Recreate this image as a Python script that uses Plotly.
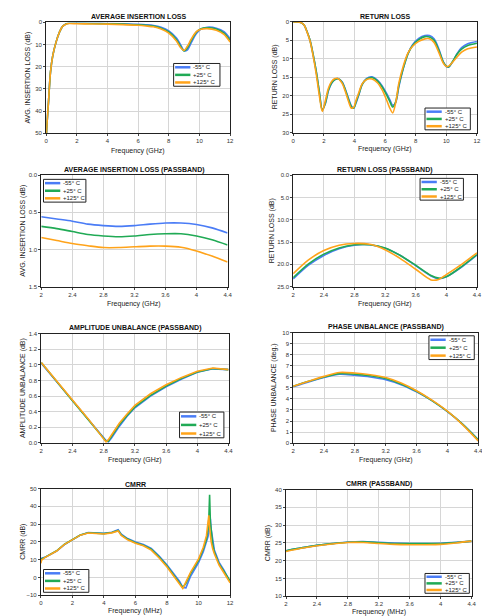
import plotly.graph_objects as go

W, H = 490, 616
FONT = 'Liberation Sans, Arial, sans-serif'
COLORS = ['#4a7cf6', '#20aa55', '#ffa31a']
LABELS = ['-55° C', '+25° C', '+125° C']

# ---- average insertion loss (wideband) ----
il_x = [0.02, 0.05, 0.15, 0.28, 0.43, 0.64, 0.86, 1.07, 1.29, 1.5, 2, 3, 4, 5, 6, 6.5, 7, 7.5,
        8, 8.5, 8.75, 9.0, 9.2, 9.46, 9.8, 10.1, 10.5, 11.1, 11.6, 12]
il_m55 = [50, 46, 36, 22.5, 15, 9, 4.5, 1.8, 0.7, 0.4, 0.3, 0.4, 0.5, 0.6, 0.9, 1.1, 1.4, 2.2,
          3.8, 7.0, 9.8, 12.8, 12.5, 9.2, 5.0, 3.0, 2.2, 2.6, 4.2, 7.4]
il_p25 = [50, 46, 36, 22.5, 15, 9, 4.5, 1.8, 0.7, 0.4, 0.4, 0.5, 0.6, 0.8, 1.1, 1.3, 1.7, 2.6,
          4.3, 7.8, 10.6, 12.9, 11.6, 8.2, 4.4, 2.9, 2.4, 3.0, 4.8, 8.1]
il_p125 = [50, 46, 36, 22.5, 15, 9, 4.5, 1.8, 0.8, 0.5, 0.6, 0.7, 0.8, 1.0, 1.3, 1.6, 2.0, 3.0,
           4.8, 8.4, 11.2, 12.6, 10.9, 7.6, 4.2, 3.1, 2.8, 3.5, 5.4, 8.9]

# ---- return loss (wideband) ----
rl_x = [0, 0.3, 0.5, 0.7, 0.9, 1.1, 1.3, 1.5, 1.7, 1.9, 2.1, 2.3, 2.5, 2.7, 2.95, 3.2, 3.4, 3.6,
        3.8, 3.95, 4.1, 4.3, 4.5, 4.8, 5.15, 5.5, 5.8, 6.1, 6.3, 6.5, 6.7, 6.9, 7.2, 7.5, 7.8,
        8.2, 8.6, 8.9, 9.2, 9.5, 9.8, 10.0, 10.15, 10.4, 10.7, 11.0, 11.4, 12]
rl_m55 = [0, 0, 0.2, 0.8, 2.6, 5.0, 8.8, 13.3, 18.8, 23.8, 22.2, 18.7, 16.7, 15.7, 15.4, 16.3,
          18.2, 20.6, 22.8, 23.4, 22.0, 19.6, 17.0, 15.3, 14.9, 15.8, 17.3, 19.4, 21.0, 22.6,
          21.8, 17.6, 12.5, 8.6, 6.2, 4.5, 3.7, 3.7, 4.6, 7.2, 10.8, 12.1, 12.3, 10.9, 8.6, 7.0,
          5.9, 5.3]
rl_p25 = [0, 0, 0.2, 0.8, 2.6, 5.0, 8.8, 13.3, 18.8, 24.0, 22.0, 18.5, 16.6, 15.7, 15.4, 16.4,
          18.4, 20.9, 23.0, 23.4, 21.8, 19.4, 17.0, 15.5, 15.1, 16.0, 17.6, 19.8, 21.5, 23.1,
          21.6, 17.2, 12.4, 8.6, 6.4, 4.8, 4.0, 4.1, 5.0, 7.6, 10.9, 12.0, 12.2, 10.8, 8.8, 7.4,
          6.4, 5.8]
rl_p125 = [0, 0, 0.2, 0.8, 2.7, 5.2, 9.2, 14.0, 19.8, 24.3, 21.4, 18.0, 16.2, 15.4, 15.4, 16.7,
           18.8, 21.4, 23.4, 23.2, 21.3, 19.0, 16.8, 15.6, 15.5, 16.5, 18.4, 21.2, 23.3, 24.7,
           21.8, 16.6, 11.8, 8.4, 6.6, 5.3, 4.6, 4.6, 5.6, 8.2, 11.2, 12.1, 12.0, 11.0, 9.5, 8.2,
           7.3, 6.8]

# ---- passband frequency grid ----
pb_x = [2.0, 2.2, 2.4, 2.6, 2.8, 3.0, 3.2, 3.4, 3.6, 3.8, 4.0, 4.2, 4.4]

ilp_m55 = [0.56, 0.59, 0.62, 0.66, 0.68, 0.69, 0.68, 0.66, 0.645, 0.645, 0.665, 0.71, 0.78]
ilp_p25 = [0.69, 0.72, 0.76, 0.80, 0.82, 0.83, 0.82, 0.80, 0.79, 0.79, 0.82, 0.87, 0.94]
ilp_p125 = [0.84, 0.88, 0.92, 0.95, 0.975, 0.975, 0.965, 0.955, 0.955, 0.97, 1.02, 1.09, 1.17]

rlp_x = [2.0, 2.2, 2.4, 2.6, 2.8, 3.0, 3.2, 3.4, 3.6, 3.8, 3.9, 4.0, 4.2, 4.4]
rlp_m55 = [23.3, 20.2, 18.0, 16.5, 15.7, 15.6, 16.4, 18.0, 20.3, 22.6, 23.2, 22.8, 20.6, 17.9]
rlp_p25 = [23.0, 19.9, 17.7, 16.3, 15.6, 15.6, 16.3, 18.0, 20.2, 22.5, 23.1, 22.8, 20.5, 17.8]
rlp_p125 = [22.1, 19.0, 16.9, 15.7, 15.3, 15.5, 16.7, 18.7, 21.1, 23.5, 23.4, 22.3, 20.0, 17.4]

au_x = [2.0, 2.2, 2.4, 2.6, 2.8, 2.83, 2.86, 2.9, 3.0, 3.1, 3.2, 3.4, 3.6, 3.8, 4.0, 4.2, 4.4]
au_m55 = [1.02, 0.78, 0.54, 0.31, 0.07, 0.03, 0.01, 0.06, 0.21, 0.34, 0.45, 0.60, 0.72, 0.82,
          0.905, 0.95, 0.94]
au_p25 = [1.03, 0.78, 0.54, 0.30, 0.06, 0.02, 0.02, 0.08, 0.23, 0.35, 0.46, 0.61, 0.73, 0.83,
          0.91, 0.955, 0.94]
au_p125 = [1.03, 0.79, 0.55, 0.31, 0.05, 0.01, 0.04, 0.10, 0.25, 0.37, 0.48, 0.63, 0.745, 0.84,
           0.92, 0.96, 0.94]

pu_m55 = [5.1, 5.55, 5.95, 6.25, 6.15, 6.0, 5.75, 5.3, 4.65, 3.85, 2.85, 1.7, 0.3]
pu_p25 = [5.15, 5.6, 6.0, 6.3, 6.25, 6.1, 5.85, 5.35, 4.7, 3.85, 2.87, 1.7, 0.3]
pu_p125 = [5.15, 5.6, 6.05, 6.4, 6.35, 6.2, 5.95, 5.45, 4.75, 3.9, 2.9, 1.65, 0.2]

# ---- CMRR (wideband) ----
cm_x = [0, 0.05, 0.25, 0.5, 1.0, 1.5, 2.0, 2.5, 3.0, 3.5, 4.0, 4.5, 4.9, 5.1, 5.5, 6.0, 6.5, 7.0,
        7.5, 8.0, 8.5, 8.8, 9.0, 9.2, 9.5, 10.0, 10.3, 10.5, 10.6, 10.65, 10.7, 10.75, 10.8,
        10.9, 11.0, 11.3, 11.6, 12.0]
cm_m55 = [10.5, 10.8, 11.3, 12.4, 14.8, 18.5, 21.4, 23.8, 25.3, 25.0, 24.8, 25.4, 26.8, 24.4,
          21.9, 19.9, 18.5, 16.3, 12.0, 7.0, 1.5, -2.2, -5.6, -5.8, 0.8, 8.4, 14.5, 19.5, 23.0,
          25.5, 30.0, 33.0, 27.0, 20.0, 15.5, 8.5, 4.3, -2.5]
cm_p25 = [9.5, 10.5, 11.3, 12.5, 15.0, 18.7, 21.5, 23.9, 25.2, 24.9, 24.7, 25.3, 26.5, 24.0,
          21.6, 19.6, 18.2, 15.9, 11.5, 6.5, 0.6, -2.6, -5.6, -3.3, 2.3, 9.6, 16.0, 21.5, 27.0,
          33.0, 46.5, 31.0, 25.0, 18.5, 14.3, 7.6, 3.6, -2.0]
cm_p125 = [8.0, 9.8, 11.2, 12.4, 14.9, 18.6, 21.4, 23.8, 25.0, 24.7, 24.5, 25.1, 26.2, 23.6,
           21.2, 19.2, 17.8, 15.4, 11.0, 5.9, 0.0, -3.8, -6.2, -2.5, 3.0, 10.4, 17.0, 23.5, 33.0,
           35.0, 28.0, 23.0, 20.0, 16.0, 13.3, 7.0, 3.0, -3.0]

cmp_m55 = [22.8, 23.6, 24.3, 24.8, 25.25, 25.4, 25.15, 24.95, 24.85, 24.85, 24.9, 25.15, 25.5]
cmp_p25 = [22.8, 23.6, 24.3, 24.8, 25.2, 25.3, 25.05, 24.85, 24.8, 24.8, 24.85, 25.1, 25.5]
cmp_p125 = [22.6, 23.5, 24.2, 24.7, 25.1, 25.1, 24.85, 24.6, 24.5, 24.5, 24.6, 25.0, 25.5]

# panel layout in pixels: plot box (x0, x1, y0, y1), legend box (lx0, ly0, lx1, ly1)
panels = [
    dict(title='AVERAGE INSERTION LOSS', ytitle='AVG. INSERTION LOSS (dB)', xtitle='Frequency (GHz)',
         x=il_x, ys=[il_m55, il_p25, il_p125], xr=[0, 12], xd=2, yr=[50, 0], yd=10, fmt='',
         box=(36.7, 223.3, 11.5, 123.5), leg=(166, 53, 213, 76), ttl=6, xt=141, yt=18, shape='spline'),
    dict(title='RETURN LOSS', ytitle='RETURN LOSS (dB)', xtitle='Frequency (GHz)',
         x=rl_x, ys=[rl_m55, rl_p25, rl_p125], xr=[0, 12], xd=2, yr=[30, 0], yd=5, fmt='',
         box=(287.3, 473.7, 11, 122.7), leg=(421, 98, 467, 120), ttl=6, xt=139, yt=269, shape='spline'),
    dict(title='AVERAGE INSERTION LOSS (PASSBAND)', ytitle='AVG. INSERTION LOSS (dB)', xtitle='Frequency (GHz)',
         x=pb_x, ys=[ilp_m55, ilp_p25, ilp_p125], xr=[2, 4.4], xd=0.4, yr=[1.5, 0], yd=0.5, fmt='.1f',
         box=(31.7, 220.7, 165.7, 278.3), leg=(34, 170, 77, 193), ttl=161, xt=296, yt=13, shape='spline'),
    dict(title='RETURN LOSS (PASSBAND)', ytitle='RETURN LOSS (dB)', xtitle='Frequency (GHz)',
         x=rlp_x, ys=[rlp_m55, rlp_p25, rlp_p125], xr=[2, 4.4], xd=0.4, yr=[25, 0], yd=5, fmt='.1f',
         box=(287.3, 473.7, 166, 278.3), leg=(416, 169, 460, 191), ttl=161, xt=296, yt=266, shape='spline'),
    dict(title='AMPLITUDE UNBALANCE (PASSBAND)', ytitle='AMPLITUDE UNBALANCE (dB)', xtitle='Frequency (GHz)',
         x=au_x, ys=[au_m55, au_p25, au_p125], xr=[2, 4.4], xd=0.4, yr=[0, 1.4], yd=0.2, fmt='.1f',
         box=(31.7, 221.7, 326, 436), leg=(172, 405, 217, 431), ttl=320, xt=453, yt=13, shape='linear'),
    dict(title='PHASE UNBALANCE (PASSBAND)', ytitle='PHASE UNBALANCE (deg.)', xtitle='Frequency (GHz)',
         x=pb_x, ys=[pu_m55, pu_p25, pu_p125], xr=[2, 4.4], xd=0.4, yr=[0, 10], yd=1, fmt='',
         box=(287.3, 475, 325, 436.3), leg=(425, 328, 471, 352), ttl=319, xt=453, yt=268, shape='spline'),
    dict(title='CMRR', ytitle='CMRR (dB)', xtitle='Frequency (MHz)',
         x=cm_x, ys=[cm_m55, cm_p25, cm_p125], xr=[0, 12], xd=2, yr=[-10, 50], yd=10, fmt='',
         box=(31.3, 223.3, 482.3, 590), leg=(34, 564, 80, 587), ttl=478, xt=606, yt=13, shape='linear'),
    dict(title='CMRR (PASSBAND)', ytitle='CMRR (dB)', xtitle='Frequency (MHz)',
         x=pb_x, ys=[cmp_m55, cmp_p25, cmp_p125], xr=[2, 4.4], xd=0.4, yr=[10, 40], yd=5, fmt='',
         box=(280, 468.3, 483.3, 591), leg=(421, 568, 466, 588), ttl=478, xt=607, yt=262, shape='spline'),
]


def px(v):
    return v / W


def py(v):
    return 1 - v / H


fig = go.Figure()
shapes = []
annotations = []

for i, p in enumerate(panels, start=1):
    sfx = '' if i == 1 else str(i)
    for ys, color, label in zip(p['ys'], COLORS, LABELS):
        fig.add_trace(go.Scatter(
            x=p['x'], y=ys, mode='lines', name=label, showlegend=False,
            line=dict(color=color, width=1.6, shape=p['shape'], smoothing=0.8),
            xaxis='x' + sfx, yaxis='y' + sfx
        ))

    x0, x1, y0, y1 = p['box']
    axis_common = dict(
        showgrid=True, gridcolor='#d6d6d6', gridwidth=0.8, zeroline=False,
        showline=True, mirror=True, linecolor='#222222', linewidth=1,
        ticks='outside', ticklen=2, tickcolor='#444444',
        tickfont=dict(family=FONT, size=6, color='#333333'),
    )
    fig.update_layout({
        'xaxis' + sfx: dict(axis_common, domain=[px(x0), px(x1)], anchor='y' + sfx,
                            range=p['xr'], tick0=p['xr'][0], dtick=p['xd']),
        'yaxis' + sfx: dict(axis_common, domain=[py(y1), py(y0)], anchor='x' + sfx,
                            range=p['yr'], tick0=0, dtick=p['yd'], tickformat=p['fmt']),
    })

    cx = (x0 + x1) / 2
    cy = (y0 + y1) / 2
    annotations.append(dict(text='<b>%s</b>' % p['title'], x=px(cx), y=py(p['ttl']),
                            xref='paper', yref='paper', showarrow=False,
                            xanchor='center', yanchor='middle',
                            font=dict(family=FONT, size=7, color='#111111')))
    annotations.append(dict(text=p['xtitle'], x=px(cx), y=py(p['xt']),
                            xref='paper', yref='paper', showarrow=False,
                            xanchor='center', yanchor='middle',
                            font=dict(family=FONT, size=7, color='#222222')))
    annotations.append(dict(text=p['ytitle'], x=px(p['yt']), y=py(cy), textangle=-90,
                            xref='paper', yref='paper', showarrow=False,
                            xanchor='center', yanchor='middle',
                            font=dict(family=FONT, size=7, color='#222222')))

    # boxed legend drawn by hand (plotly legends have a 19px minimum row height)
    lx0, ly0, lx1, ly1 = p['leg']
    shapes.append(dict(type='rect', xref='paper', yref='paper',
                       x0=px(lx0), x1=px(lx1), y0=py(ly1), y1=py(ly0),
                       line=dict(color='#222222', width=1), fillcolor='white', layer='above'))
    row = (ly1 - ly0) / 3
    for k, (color, label) in enumerate(zip(COLORS, LABELS)):
        ry = ly0 + row * (k + 0.5)
        shapes.append(dict(type='line', xref='paper', yref='paper',
                           x0=px(lx0 + 1.5), x1=px(lx0 + 17), y0=py(ry), y1=py(ry),
                           line=dict(color=color, width=2.5), layer='above'))
        annotations.append(dict(text=label, x=px(lx0 + 18), y=py(ry),
                                xref='paper', yref='paper', showarrow=False,
                                xanchor='left', yanchor='middle',
                                font=dict(family=FONT, size=6, color='#222222')))

fig.update_layout(
    width=W, height=H,
    margin=dict(l=0, r=0, t=0, b=0),
    paper_bgcolor='white', plot_bgcolor='white',
    font=dict(family=FONT, size=6),
    showlegend=False,
    shapes=shapes,
    annotations=annotations,
)

fig.write_html('out.html')
